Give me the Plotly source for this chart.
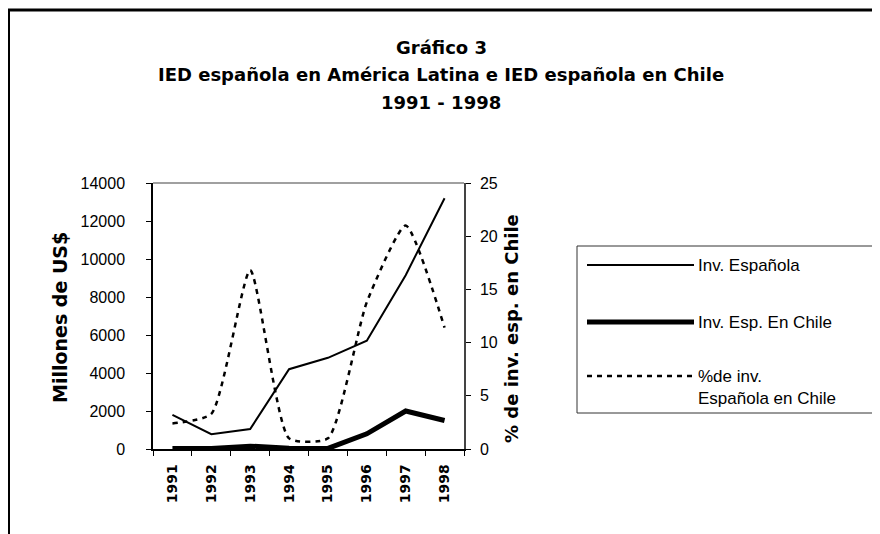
import plotly.graph_objects as go

# ---------------- data ----------------
years = ["1991", "1992", "1993", "1994", "1995", "1996", "1997", "1998"]
inv_espanola = [1800, 780, 1050, 4200, 4800, 5700, 9150, 13200]
inv_esp_chile = [20, 30, 150, 40, 30, 800, 2000, 1500]
pct_esp_chile = [2.4, 3.3, 16.8, 1.0, 1.0, 13.8, 21.0, 11.4]

left_ticks = [0, 2000, 4000, 6000, 8000, 10000, 12000, 14000]
right_ticks = [0, 5, 10, 15, 20, 25]

names = ["Inv. Española", "Inv. Esp. En Chile", "%de inv.<br>Española en Chile"]
title_lines = ["Gráfico 3",
               "IED española en América Latina e IED española en Chile",
               "1991 - 1998"]
left_title = "Millones de US$"
right_title = "% de inv. esp. en Chile"

# ---------------- geometry (screen pixels; page body adds an 8px offset) ----
W, H = 880, 534
OFF = 8
SL, SR, ST, SB = 153, 464, 183, 449          # plot area as seen on screen
PL, PR, PT, PB = SL - OFF, SR - OFF, ST - OFF, SB - OFF
pw, ph = PR - PL, PB - PT


def px(x):
    return (x - SL) / pw


def py(y):
    return (SB - y) / ph


fig = go.Figure()
fig.add_trace(go.Scatter(x=years, y=inv_espanola, mode="lines", name=names[0],
                         line=dict(color="black", width=2)))
fig.add_trace(go.Scatter(x=years, y=inv_esp_chile, mode="lines", name=names[1],
                         line=dict(color="black", width=5)))
fig.add_trace(go.Scatter(x=years, y=pct_esp_chile, mode="lines", name=names[2],
                         yaxis="y2",
                         line=dict(color="black", width=2.5, dash="5px,5px",
                                   shape="spline", smoothing=0.55)))

tickfont = dict(family="Liberation Sans, Arial", size=16, color="black")

fig.update_layout(
    width=W, height=H,
    margin=dict(l=PL, r=W - PR, t=PT, b=H - PB, pad=0),
    paper_bgcolor="white", plot_bgcolor="white",
    showlegend=False,
    xaxis=dict(type="category", range=[-0.5, 7.5], tickson="boundaries",
               ticks="outside", ticklen=5, tickcolor="black", tickwidth=1,
               showline=True, linecolor="black", linewidth=1.5,
               showgrid=False, zeroline=False, tickangle=-90,
               tickfont=dict(family="DejaVu Sans", size=14, color="black",
                             weight="bold"),
               ticklabelstandoff=8),
    yaxis=dict(range=[0, 14000], tickvals=left_ticks,
               ticktext=[str(v) for v in left_ticks],
               ticks="outside", ticklen=5, tickcolor="black",
               showline=True, linecolor="black", linewidth=1.5,
               showgrid=False, zeroline=False, tickfont=tickfont,
               ticklabelstandoff=18),
    yaxis2=dict(range=[0, 25], tickvals=right_ticks, overlaying="y",
                side="right", anchor="x",
                ticks="outside", ticklen=5, tickcolor="black",
                showline=True, linecolor="#444", linewidth=1.5,
                showgrid=False, zeroline=False, tickfont=tickfont,
                ticklabelstandoff=6),
    # inside halves of the crossing tick marks
    xaxis2=dict(range=[-0.5, 7.5], overlaying="x", anchor="y", side="bottom",
                tickvals=[i - 0.5 for i in range(9)], ticks="inside",
                ticklen=5, tickcolor="black", showticklabels=False,
                showgrid=False, zeroline=False, showline=False),
    yaxis3=dict(range=[0, 14000], overlaying="y", anchor="x", side="left",
                tickvals=left_ticks, ticks="inside", ticklen=5,
                tickcolor="black", showticklabels=False, showgrid=False,
                zeroline=False, showline=False),
    yaxis4=dict(range=[0, 25], overlaying="y", anchor="x", side="right",
                tickvals=right_ticks, ticks="inside", ticklen=5,
                tickcolor="black", showticklabels=False, showgrid=False,
                zeroline=False, showline=False),
)

shapes = []
# outer chart frame (cropped at right/bottom)
shapes.append(dict(type="rect", xref="paper", yref="paper",
                   x0=px(8.5), x1=px(900), y0=py(570), y1=py(10),
                   line=dict(color="black", width=3), fillcolor="rgba(0,0,0,0)"))
# plot area top border (gray)
shapes.append(dict(type="line", xref="paper", yref="paper",
                   x0=0, x1=1, y0=1, y1=1,
                   line=dict(color="#808080", width=1.5)))
# legend box
shapes.append(dict(type="rect", xref="paper", yref="paper",
                   x0=px(577), x1=px(900), y0=py(413), y1=py(246),
                   line=dict(color="#333", width=1), fillcolor="white",
                   layer="below"))
leg_y = [265, 322, 376]
leg_w = [2, 5, 2.5]
leg_dash = ["solid", "solid", "5px,5px"]
for yy, w, d in zip(leg_y, leg_w, leg_dash):
    shapes.append(dict(type="line", xref="paper", yref="paper",
                       x0=px(587), x1=px(694), y0=py(yy), y1=py(yy),
                       line=dict(color="black", width=w, dash=d)))
fig.update_layout(shapes=shapes)

ann = []
title_font = dict(family="DejaVu Sans", size=18, color="black", weight="bold")
for t, yy in zip(title_lines, [48, 75, 102]):
    ann.append(dict(text=t, xref="paper", yref="paper", x=px(441), y=py(yy),
                    showarrow=False, xanchor="center", yanchor="middle",
                    font=title_font))
ann.append(dict(text=left_title, xref="paper", yref="paper", x=px(60),
                y=py(318), textangle=-90, showarrow=False,
                xanchor="center", yanchor="middle",
                font=dict(family="DejaVu Sans", size=19, color="black",
                          weight="bold")))
ann.append(dict(text=right_title, xref="paper", yref="paper", x=px(511),
                y=py(329), textangle=-90, showarrow=False,
                xanchor="center", yanchor="middle",
                font=dict(family="DejaVu Sans", size=18, color="black",
                          weight="bold")))
leg_font = dict(family="Liberation Sans, Arial", size=17, color="black")
for nm, yy in zip(names[:2], leg_y[:2]):
    ann.append(dict(text=nm, xref="paper", yref="paper", x=px(696), y=py(yy),
                    showarrow=False, xanchor="left", yanchor="middle",
                    font=leg_font))
ann.append(dict(text=names[2], xref="paper", yref="paper", x=px(696),
                y=py(leg_y[2] - 11), showarrow=False, xanchor="left",
                yanchor="top", align="left", font=leg_font))
fig.update_layout(annotations=ann)

fig.write_html("out.html")
